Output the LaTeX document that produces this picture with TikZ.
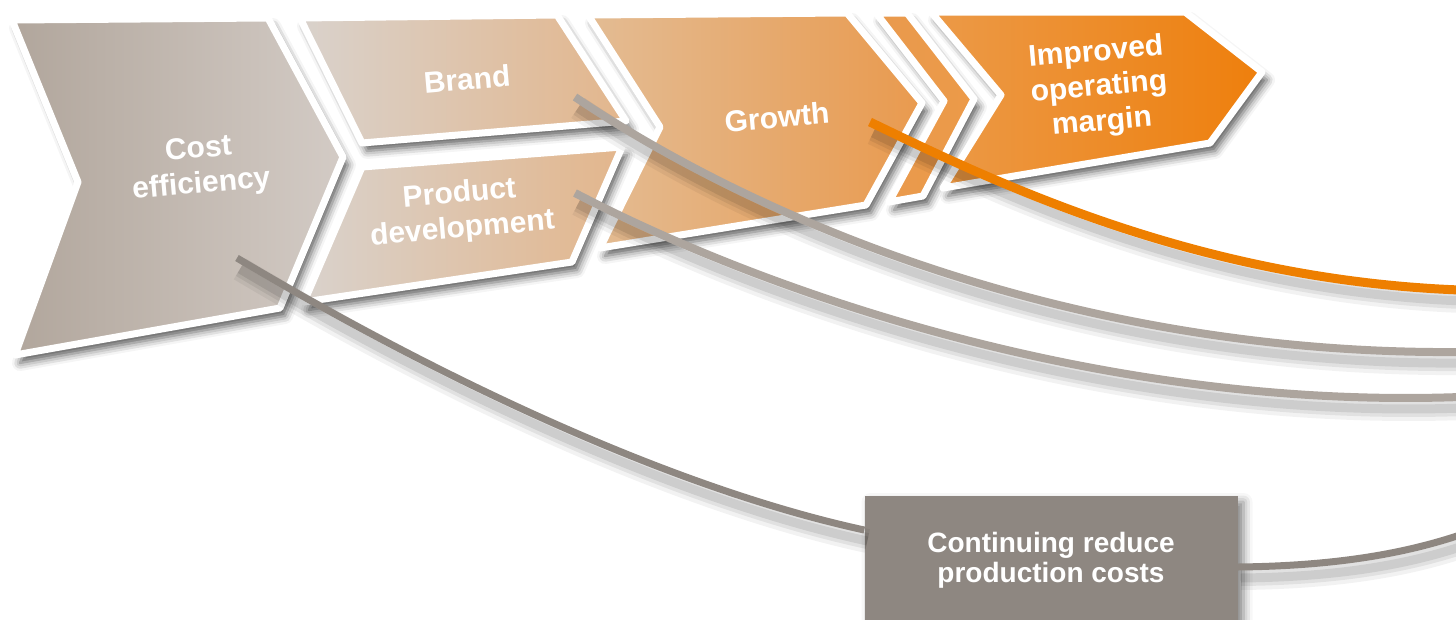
\documentclass[tikz,border=0pt]{standalone}
\usepackage{fontspec}
\setsansfont{Liberation Sans}
\usetikzlibrary{shadows.blur}

\definecolor{costL}{HTML}{B1A69C}
\definecolor{costR}{HTML}{D3CBC5}
\definecolor{brandL}{HTML}{D9D2CC}
\definecolor{brandR}{HTML}{E3B68C}
\definecolor{growL}{HTML}{E3BC94}
\definecolor{growR}{HTML}{E99A4E}
\definecolor{impL}{HTML}{EC9A48}
\definecolor{impR}{HTML}{EE7F0C}
\definecolor{lineGrey}{HTML}{ADA59E}
\definecolor{darkGrey}{HTML}{8E8781}
\definecolor{lineOrange}{HTML}{EE7F00}

\begin{document}
\begin{tikzpicture}[x=1pt,y=-1pt,
  chev/.style={draw=white,line width=7pt,line join=round,
    blur shadow={shadow xshift=5pt,shadow yshift=-8pt,shadow blur radius=8pt,shadow opacity=65}},
  lbl/.style={text=white,align=center,rotate=5,
    font=\sffamily\bfseries\fontsize{30}{35}\selectfont},
  haze/.style={preaction={draw=black,opacity=.05,line width=24pt,transform canvas={xshift=3pt,yshift=-11pt}},
    preaction={draw=black,opacity=.07,line width=16pt,transform canvas={xshift=3pt,yshift=-11pt}},
    preaction={draw=black,opacity=.09,line width=9pt,transform canvas={xshift=3pt,yshift=-11pt}}},
  link/.style={haze,line width=8pt}]
\useasboundingbox (0,0) rectangle (1456,619);
\clip (0,0) rectangle (1456,619);

\path[chev,left color=costL,right color=costR]
  (12,20) -- (268,18) -- (343,157) -- (280,308) -- (15,355) -- (78,182) -- cycle;
\path[chev,left color=brandL,right color=brandR]
  (300,18) -- (557,15) -- (626,121) -- (362,143) -- cycle;
\path[chev,left color=brandL,right color=brandR]
  (362,167) -- (622,147) -- (572,262) -- (304,302) -- cycle;
\path[chev,left color=growL,right color=growR]
  (588,15) -- (847,13) -- (922,103) -- (866,205) -- (600,248) -- (660,127) -- cycle;
\path[chev,left color=growR,right color=impL]
  (876,13) -- (907,13) -- (974,99) -- (923,196) -- (889,202) -- (944,101) -- cycle;
\path[chev,left color=impL,right color=impR]
  (931,12) -- (1185,12) -- (1262,72) -- (1210,143) -- (943,188) -- (1001,95) -- cycle;

\node[lbl] (cost) at (200,168) {Cost\\efficiency};
\node[lbl] (brand) at (467,79) {Brand};
\node[lbl] (prod) at (461,212) {Product\\development};
\node[lbl] (growth) at (777,117) {Growth};
\node[lbl] (margin) at (1099,88) {Improved\\operating\\margin};

\node[fill=darkGrey,text=white,align=center,minimum width=373pt,minimum height=128pt,
  font=\sffamily\bfseries\fontsize{28}{30}\selectfont,
  blur shadow={shadow xshift=6pt,shadow yshift=-6pt,shadow blur radius=9pt,shadow opacity=50}]
  (cut) at (1051,560) {Continuing reduce\\production costs};

\coordinate (cost-out) at (237,258);
\coordinate (brand-out) at (575,97);
\coordinate (prod-out) at (575,193);
\coordinate (growth-out) at (870,122);
\coordinate (brand-end) at (1460,352);
\coordinate (prod-end) at (1460,397);
\coordinate (growth-end) at (1460,290);
\coordinate (cut-end) at (1460,535);

\draw[link,lineGrey] (brand-out) .. controls (780,235) and (1100,355) .. (brand-end);
\draw[link,lineGrey] (prod-out) .. controls (760,290) and (1100,410) .. (prod-end);
\draw[link,lineOrange,line width=9pt] (growth-out) .. controls (1000,185) and (1200,280) .. (growth-end);
\draw[link,darkGrey,line width=7pt] (cost-out) .. controls (450,385) and (680,490) .. ([yshift=30pt]cut.west);
\draw[link,darkGrey,line width=7pt] ([yshift=-7pt]cut.east) .. controls (1330,566) and (1400,555) .. (cut-end);
\end{tikzpicture}
\end{document}
